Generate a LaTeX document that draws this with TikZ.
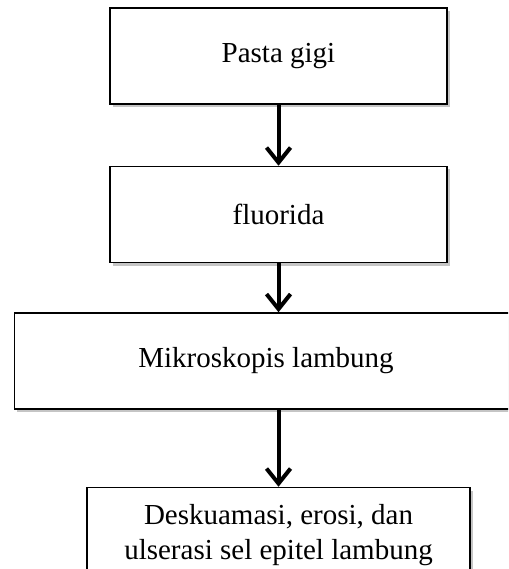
\documentclass[tikz,border=0pt]{standalone}
\usepackage{fontspec}
\setmainfont{Liberation Serif}
\usetikzlibrary{positioning,shadows,arrows.meta}

\begin{document}
\begin{tikzpicture}[node distance=61pt]
        \tikzstyle{stage} = [rectangle, minimum height=96pt, align=center, draw=black, line width=1.5pt, fill=white, drop shadow={shadow xshift=2.5pt, shadow yshift=-3pt, fill=black!45, opacity=0.5}, font=\fontsize{29}{35}\selectfont]
        \tikzstyle{arrow} = [line width=4pt, -{Straight Barb[length=15pt,width=24pt]}]

        \useasboundingbox (0,0) rectangle (508pt,-569pt);
        \clip (0,0) rectangle (508pt,-569pt);

        \node (pasta) [stage, minimum width=337pt] at (278.5pt,-56pt) {Pasta gigi};
        \node (fluorida) [stage, minimum width=337pt, below=61pt of pasta] {fluorida};
        \node (mikroskopis) [stage, minimum width=503pt, below=49pt of fluorida, xshift=-12.5pt] {Mikroskopis lambung};
        \node (deskuamasi) [stage, minimum width=383pt, below=77pt of mikroskopis, xshift=12.5pt] {Deskuamasi, erosi, dan\\ulserasi sel epitel lambung};

        \draw [arrow] (pasta) -- (fluorida);
        \draw [arrow] (fluorida.south) -- (fluorida.south |- mikroskopis.north);
        \draw [arrow] (deskuamasi.north |- mikroskopis.south) -- (deskuamasi);
    \end{tikzpicture}
\end{document}
